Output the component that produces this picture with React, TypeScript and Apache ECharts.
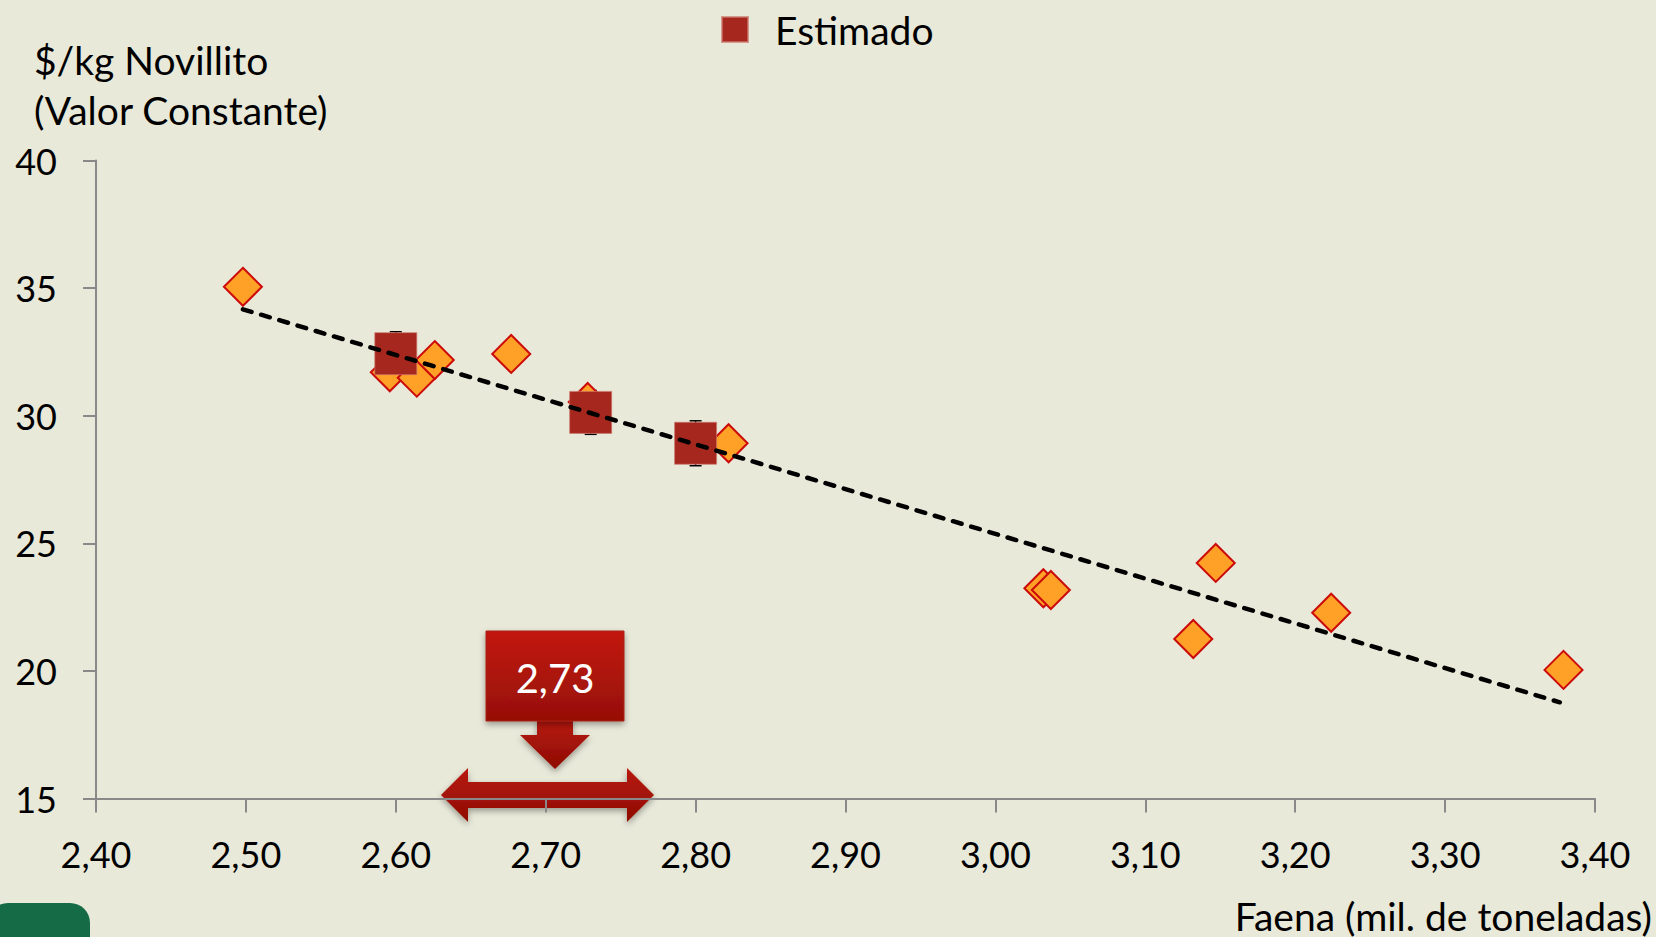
import React, { useEffect, useRef } from "react";
import * as echarts from "echarts";

// Observed points (diamonds)
const obsX = [2.498, 2.596, 2.614, 2.626, 2.677, 2.728, 2.822, 3.032, 3.037, 3.132, 3.147, 3.224, 3.379];
const obsY = [35.05, 31.70, 31.49, 32.18, 32.42, 30.54, 28.92, 23.24, 23.17, 21.25, 24.23, 22.28, 20.04];

// Estimated points (squares) with error
const estX = [2.60, 2.73, 2.80];
const estY = [32.43, 30.13, 28.92];
const estErr = [0.86, 0.86, 0.88];

// Trend line end points
const trendX = [2.498, 3.3765];
const trendY = [34.17, 18.77];

const xTicks = { min: 2.4, max: 3.4, interval: 0.1 };
const yTicks = { min: 15, max: 40, interval: 5 };

const yTitle = "$/kg Novillito\n(Valor Constante)";
const xTitle = "Faena (mil. de toneladas)";
const legendName = "Estimado";
const annotationText = "2,73";

const FONT = "Lato";

export default function App() {
  const ref = useRef<HTMLDivElement>(null);

  useEffect(() => {
    if (!ref.current) return;
    const chart = echarts.init(ref.current, null, { renderer: "svg" });

    const redGrad = new echarts.graphic.LinearGradient(0, 0, 0, 1, [
      { offset: 0, color: "#C2190B" },
      { offset: 1, color: "#960F06" },
    ]);
    const redGrad2 = new echarts.graphic.LinearGradient(0, 0, 0, 1, [
      { offset: 0, color: "#B8170A" },
      { offset: 1, color: "#8E0E05" },
    ]);

    const option: any = {
      animation: false,
      backgroundColor: "#E8E9D9",
      textStyle: { fontFamily: FONT },
      grid: { left: 96, right: 61, top: 160.5, bottom: 138.5, containLabel: false },
      legend: {
        data: [legendName],
        left: 721,
        top: 10,
        padding: 0,
        icon: "rect",
        itemWidth: 26,
        itemHeight: 25,
        textStyle: { fontSize: 39, color: "#000", fontFamily: FONT, padding: [0, 0, 0, 22] },
      },
      xAxis: {
        type: "value",
        min: xTicks.min,
        max: xTicks.max,
        interval: xTicks.interval,
        splitLine: { show: false },
        axisLine: { lineStyle: { color: "#898989", width: 2 } },
        axisTick: { length: 14, lineStyle: { color: "#898989", width: 2 } },
        axisLabel: {
          margin: 37,
          fontSize: 36,
          color: "#000",
          fontFamily: FONT,
          formatter: (v: number) => v.toFixed(2).replace(".", ","),
        },
      },
      yAxis: {
        type: "value",
        min: yTicks.min,
        max: yTicks.max,
        interval: yTicks.interval,
        splitLine: { show: false },
        axisLine: { show: true, lineStyle: { color: "#898989", width: 2 } },
        axisTick: { show: true, length: 13, lineStyle: { color: "#898989", width: 2 } },
        axisLabel: { margin: 39, fontSize: 36, color: "#000", fontFamily: FONT },
      },
      series: [
        {
          type: "custom",
          name: "err",
          z: 1,
          data: estX.map((x, i) => [x, estY[i] - estErr[i], estY[i] + estErr[i]]),
          renderItem: (params: any, api: any) => {
            const x = api.value(0);
            const lo = api.coord([x, api.value(1)]);
            const hi = api.coord([x, api.value(2)]);
            const st = { stroke: "#000", lineWidth: 1.5 };
            return {
              type: "group",
              children: [
                { type: "line", shape: { x1: hi[0], y1: hi[1], x2: lo[0], y2: lo[1] }, style: st },
                { type: "line", shape: { x1: hi[0] - 6, y1: hi[1], x2: hi[0] + 6, y2: hi[1] }, style: st },
                { type: "line", shape: { x1: lo[0] - 6, y1: lo[1], x2: lo[0] + 6, y2: lo[1] }, style: st },
              ],
            };
          },
        },
        {
          type: "scatter",
          name: "Observado",
          z: 2,
          symbol: "diamond",
          symbolSize: 38,
          itemStyle: { color: "#FFA126", borderColor: "#CC0A0A", borderWidth: 2, opacity: 1 },
          data: obsX.map((x, i) => [x, obsY[i]]),
        },
        {
          type: "scatter",
          name: legendName,
          z: 3,
          symbol: "rect",
          symbolSize: 42,
          itemStyle: { color: "#A6271D", borderColor: "rgba(205,120,110,0.7)", borderWidth: 1, opacity: 1 },
          data: estX.map((x, i) => [x, estY[i]]),
        },
        {
          type: "line",
          name: "Tendencia",
          z: 4,
          symbol: "none",
          lineStyle: { color: "#000", width: 4.5, type: [9, 10], cap: "round" },
          data: trendX.map((x, i) => [x, trendY[i]]),
        },
      ],
      graphic: [
        {
          type: "text",
          left: 34,
          top: 35,
          style: { text: yTitle, fontSize: 39, lineHeight: 50, fill: "#000", fontFamily: FONT },
        },
        {
          type: "text",
          right: 4,
          top: 896,
          style: { text: xTitle, fontSize: 39, fill: "#000", fontFamily: FONT },
        },
        {
          type: "rect",
          shape: { x: -12, y: 903, width: 102, height: 60, r: 20 },
          style: { fill: "#156B45" },
        },
        {
          type: "group",
          z: 100,
          children: [
            {
              type: "polygon",
              shape: {
                points: [
                  [441, 795], [468, 768], [468, 782], [627, 782], [627, 768],
                  [654, 795], [627, 822], [627, 808], [468, 808], [468, 822],
                ],
              },
              style: { fill: redGrad2, shadowBlur: 6, shadowColor: "rgba(0,0,0,0.35)", shadowOffsetY: 3 },
            },
            {
              type: "polygon",
              shape: {
                points: [
                  [537, 718], [573, 718], [573, 735], [590, 735], [555, 769], [520, 735], [537, 735],
                ],
              },
              style: { fill: redGrad2, shadowBlur: 6, shadowColor: "rgba(0,0,0,0.35)", shadowOffsetY: 3 },
            },
            {
              type: "rect",
              shape: { x: 486, y: 631, width: 138, height: 90 },
              style: { fill: redGrad, stroke: "#A8251A", lineWidth: 1, shadowBlur: 6, shadowColor: "rgba(0,0,0,0.35)", shadowOffsetY: 3 },
            },
            {
              type: "text",
              x: 555,
              y: 678,
              style: {
                text: annotationText,
                fontSize: 40,
                fill: "#fff",
                fontFamily: FONT,
                align: "center",
                verticalAlign: "middle",
              },
            },
          ],
        },
      ],
    };

    chart.setOption(option);
    return () => chart.dispose();
  }, []);

  return (
    <div
      ref={ref}
      style={{ position: "fixed", left: 0, top: 0, width: "1656px", height: "937px" }}
    />
  );
}
